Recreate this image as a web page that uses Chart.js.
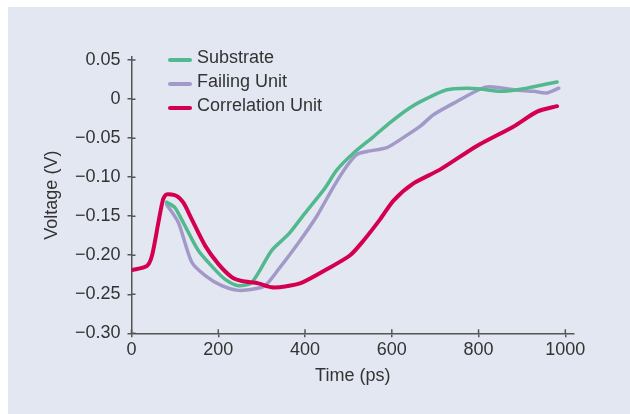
<!DOCTYPE html>
<html>
<head>
<meta charset="utf-8">
<script src="https://cdn.jsdelivr.net/npm/chart.js@4.4.1/dist/chart.umd.min.js"></script>
<style>
  html, body { margin: 0; padding: 0; background: #ffffff; }
  #wrap { position: relative; width: 630px; height: 414px; overflow: hidden; }
  #panel { position: absolute; left: 8px; top: 7px; right: 0; bottom: 0; background: #e3e7f2; }
  #myChart { position: absolute; left: 0; top: 0; }
  #legend { position: absolute; left: 0; top: 0; font-family: 'Liberation Sans', Arial, sans-serif; font-size: 18px; color: #333; }
  .item { position: absolute; left: 168px; height: 24px; }
  .item .swatch { position: absolute; left: 0; width: 24px; height: 4px; border-radius: 2px; }
  .item .label { position: absolute; left: 29px; white-space: nowrap; line-height: 24px; }
</style>
</head>
<body>
<div id="wrap">
  <div id="panel"></div>
  <canvas id="myChart" width="630" height="414"></canvas>
  <div id="legend"></div>
</div>
<script>
// values: [time ps, voltage V]
const seriesNames = ['Substrate', 'Failing Unit', 'Correlation Unit'];

const substrate = [
    [81, -0.132], [100, -0.139], [123, -0.162], [154, -0.194], [185, -0.214],
    [216, -0.231], [246, -0.239], [277, -0.235], [323, -0.194], [362, -0.173],
    [400, -0.146], [446, -0.114], [473, -0.091], [512, -0.069], [558, -0.048],
    [596, -0.030], [642, -0.011], [681, 0.001], [727, 0.012], [773, 0.014],
    [804, 0.013], [850, 0.010], [889, 0.012], [927, 0.016], [981, 0.022]
];

const failingUnit = [
    [81, -0.135], [108, -0.158], [139, -0.209], [170, -0.226], [208, -0.239],
    [246, -0.245], [285, -0.243], [308, -0.239], [339, -0.218], [385, -0.184],
    [427, -0.150], [466, -0.112], [496, -0.086], [519, -0.071], [543, -0.067],
    [589, -0.062], [619, -0.052], [665, -0.035], [696, -0.020], [750, -0.003],
    [804, 0.013], [827, 0.016], [881, 0.012], [927, 0.010], [958, 0.008], [985, 0.014]
];

const correlationUnit = [
    [0, -0.219], [35, -0.214], [47, -0.201], [62, -0.158], [73, -0.128],
    [81, -0.122], [104, -0.124], [120, -0.133], [139, -0.154], [170, -0.188],
    [200, -0.211], [231, -0.228], [254, -0.233], [292, -0.236], [323, -0.241],
    [354, -0.240], [393, -0.235], [450, -0.218], [504, -0.200], [535, -0.181],
    [573, -0.154], [604, -0.130], [650, -0.108], [712, -0.090], [796, -0.060],
    [881, -0.035], [935, -0.016], [981, -0.009]
];

const xTicks = [0, 200, 400, 600, 800, 1000];
const yTicks = [0.05, 0, -0.05, -0.10, -0.15, -0.20, -0.25, -0.30];
const yTickLabels = ['0.05', '0', '\u22120.05', '\u22120.10', '\u22120.15', '\u22120.20', '\u22120.25', '\u22120.30'];

const FONT = "'Liberation Sans', Arial, sans-serif";
const FSIZE = 18;
const AXIS = '#555555';
const TEXT = '#333333';

function toPoints(arr) {
    return arr.map(p => ({ x: p[0], y: p[1] }));
}

// small tick marks on the inside of both axes
const innerTicks = {
    id: 'innerTicks',
    afterDatasetsDraw(chart) {
        const ctx = chart.ctx;
        const xs = chart.scales.x;
        const ys = chart.scales.y;
        ctx.save();
        ctx.strokeStyle = AXIS;
        ctx.lineWidth = 1.5;
        ctx.beginPath();
        xs.ticks.forEach(t => {
            const px = xs.getPixelForValue(t.value);
            ctx.moveTo(px, ys.bottom);
            ctx.lineTo(px, ys.bottom - 4);
        });
        ys.ticks.forEach(t => {
            const py = ys.getPixelForValue(t.value);
            ctx.moveTo(xs.left, py);
            ctx.lineTo(xs.left + 4, py);
        });
        ctx.stroke();
        ctx.restore();
    }
};

// legend as html, built from the chart datasets
const htmlLegend = {
    id: 'htmlLegend',
    afterUpdate(chart) {
        const box = document.getElementById('legend');
        box.innerHTML = '';
        const rows = [60, 84, 108];
        chart.data.datasets.forEach((ds, i) => {
            const item = document.createElement('div');
            item.className = 'item';
            item.style.top = (rows[i] - 12) + 'px';
            const sw = document.createElement('span');
            sw.className = 'swatch';
            sw.style.top = '10px';
            sw.style.background = ds.borderColor;
            const lb = document.createElement('span');
            lb.className = 'label';
            lb.style.top = '-3px';
            lb.textContent = ds.label;
            item.appendChild(sw);
            item.appendChild(lb);
            box.appendChild(item);
        });
    }
};

const ctx = document.getElementById('myChart').getContext('2d');
const myChart = new Chart(ctx, {
    type: 'line',
    data: {
        datasets: [
            {
                label: seriesNames[0],
                data: toPoints(substrate),
                borderColor: '#52b98f',
                borderWidth: 3.5,
                order: 2
            },
            {
                label: seriesNames[1],
                data: toPoints(failingUnit),
                borderColor: '#a399c8',
                borderWidth: 3.5,
                order: 3
            },
            {
                label: seriesNames[2],
                data: toPoints(correlationUnit),
                borderColor: '#d4004f',
                borderWidth: 4,
                order: 1
            }
        ]
    },
    options: {
        responsive: false,
        animation: false,
        devicePixelRatio: 1,
        layout: { padding: { left: 0, top: 57, right: 56, bottom: 0 } },
        elements: {
            point: { radius: 0 },
            line: { tension: 0.25, borderCapStyle: 'round', borderJoinStyle: 'round', fill: false }
        },
        plugins: {
            legend: { display: false },
            tooltip: { enabled: false }
        },
        scales: {
            x: {
                type: 'linear',
                min: 0,
                max: 1020,
                afterBuildTicks: scale => { scale.ticks = xTicks.map(v => ({ value: v })); },
                afterFit: scale => { scale.height = 80.7; },
                ticks: {
                    color: TEXT,
                    font: { family: FONT, size: FSIZE },
                    padding: 2,
                    maxRotation: 0,
                    callback: v => String(v)
                },
                grid: { drawOnChartArea: false, drawTicks: true, tickLength: 4, color: AXIS, lineWidth: 1.5 },
                border: { display: true, color: AXIS, width: 1.5 },
                title: {
                    display: true,
                    text: 'Time (ps)',
                    color: TEXT,
                    font: { family: FONT, size: FSIZE },
                    padding: 27
                }
            },
            y: {
                type: 'linear',
                min: -0.30,
                max: 0.054,
                afterBuildTicks: scale => { scale.ticks = yTicks.map(v => ({ value: v })); },
                afterFit: scale => { scale.width = 131.5; },
                ticks: {
                    color: TEXT,
                    font: { family: FONT, size: FSIZE },
                    padding: 7,
                    callback: (v, i) => yTickLabels[i]
                },
                grid: { drawOnChartArea: false, drawTicks: true, tickLength: 4, color: AXIS, lineWidth: 1.5 },
                border: { display: true, color: AXIS, width: 1.5 },
                title: {
                    display: true,
                    text: 'Voltage (V)',
                    color: TEXT,
                    font: { family: FONT, size: FSIZE },
                    padding: 41
                }
            }
        }
    },
    plugins: [innerTicks, htmlLegend]
});
</script>
</body>
</html>
